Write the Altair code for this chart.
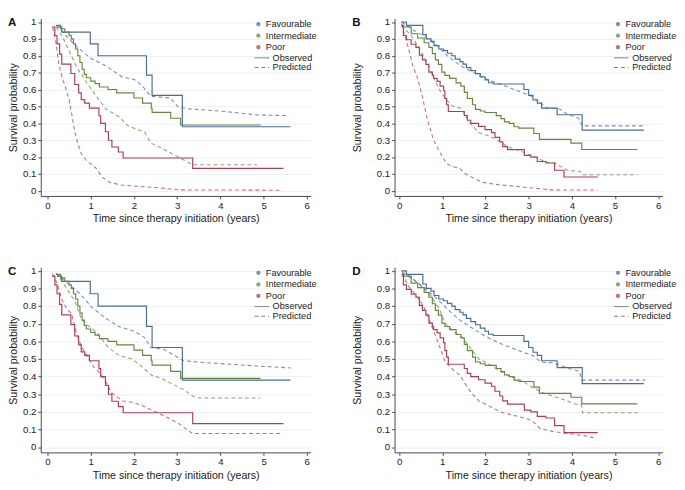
import altair as alt
import pandas as pd

FONT = "Liberation Sans"

GROUPS = ["Favourable", "Intermediate", "Poor"]
KINDS = ["Observed", "Predicted"]
LINE_COLORS = ["#4a6b96", "#66873f", "#ad3c57"]
YEAR_TICKS = [0, 1, 2, 3, 4, 5, 6]
SURV_TICKS = [0, 0.1, 0.2, 0.3, 0.4, 0.5, 0.6, 0.7, 0.8, 0.9, 1]

# ---------------- Observed Kaplan-Meier (panels A and C) ----------------
obs_ac_fav_t = [0.22, 0.33, 0.99, 1.17, 2.29, 2.42, 3.12, 5.62]
obs_ac_fav_s = [0.97, 0.94, 0.87, 0.80, 0.685, 0.565, 0.38, 0.38]
obs_ac_int_t = [0.2, 0.3, 0.4, 0.5, 0.55, 0.6, 0.65, 0.7, 0.75, 0.8, 0.85, 0.9, 1.0, 1.1,
                1.2, 1.4, 1.6, 2.0, 2.2, 2.4, 2.42, 2.85, 3.08, 4.93]
obs_ac_int_s = [0.98, 0.96, 0.94, 0.92, 0.90, 0.87, 0.84, 0.80, 0.76, 0.72, 0.69, 0.67, 0.65, 0.635,
                0.615, 0.60, 0.58, 0.55, 0.52, 0.49, 0.465, 0.43, 0.39, 0.39]
obs_ac_poor_t = [0.1, 0.17, 0.22, 0.28, 0.33, 0.54, 0.63, 0.72, 0.78, 0.86, 0.97, 1.19, 1.23, 1.34,
                 1.41, 1.49, 1.64, 1.75, 3.36, 5.46]
obs_ac_poor_s = [0.97, 0.92, 0.87, 0.81, 0.75, 0.695, 0.63, 0.58, 0.54, 0.52, 0.49, 0.445, 0.40, 0.35,
                 0.30, 0.26, 0.23, 0.195, 0.133, 0.133]

# ---------------- Observed Kaplan-Meier (panels B and D) ----------------
obs_bd_fav_t = [0.05, 0.17, 0.55, 0.63, 0.74, 0.81, 0.92, 1.03, 1.12, 1.22, 1.3, 1.41, 1.48, 1.56,
                1.66, 1.77, 1.88, 1.99, 2.07, 2.18, 2.89, 3.0, 3.1, 3.2, 3.3, 3.66, 4.24, 5.67]
obs_bd_fav_s = [1.0, 0.98, 0.925, 0.9, 0.885, 0.86, 0.84, 0.83, 0.815, 0.8, 0.78, 0.765, 0.75, 0.73,
                0.712, 0.694, 0.675, 0.657, 0.64, 0.633, 0.6, 0.565, 0.538, 0.52, 0.49, 0.451, 0.36, 0.36]
obs_bd_int_t = [0.06, 0.28, 0.43, 0.58, 0.69, 0.77, 0.84, 0.91, 0.99, 1.06, 1.17, 1.32, 1.43, 1.51,
                1.58, 1.7, 1.77, 1.88, 1.99, 2.25, 2.36, 2.44, 2.55, 2.66, 2.77, 3.12, 3.25, 3.98,
                4.23, 5.52]
obs_bd_int_s = [0.97, 0.93, 0.905, 0.877, 0.85, 0.813, 0.776, 0.749, 0.703, 0.684, 0.666, 0.639, 0.62,
                0.583, 0.547, 0.51, 0.483, 0.473, 0.464, 0.446, 0.428, 0.409, 0.40, 0.38, 0.372, 0.34,
                0.305, 0.283, 0.245, 0.245]
obs_bd_poor_t = [0.06, 0.1, 0.17, 0.28, 0.39, 0.47, 0.54, 0.62, 0.69, 0.77, 0.8, 0.88, 0.95, 1.03,
                 1.06, 1.1, 1.14, 1.51, 1.58, 1.66, 1.84, 1.99, 2.14, 2.22, 2.33, 2.4, 2.51, 2.9,
                 3.05, 3.2, 3.4, 3.6, 3.82, 4.6]
obs_bd_poor_s = [0.98, 0.92, 0.895, 0.868, 0.85, 0.804, 0.776, 0.749, 0.703, 0.684, 0.666, 0.648, 0.62,
                 0.593, 0.547, 0.51, 0.47, 0.446, 0.418, 0.40, 0.382, 0.363, 0.345, 0.317, 0.29, 0.262,
                 0.244, 0.21, 0.2, 0.174, 0.165, 0.122, 0.082, 0.082]

# ---------------- Predicted (panel A) ----------------
pred_a_fav_t = [0.2, 0.39, 0.61, 1.0, 1.35, 1.72, 2.02, 2.2, 2.39, 2.6, 2.84, 3.03, 3.29, 4.1, 4.85, 5.59]
pred_a_fav_s = [0.98, 0.93, 0.87, 0.785, 0.74, 0.676, 0.658, 0.62, 0.56, 0.555, 0.55, 0.495, 0.485,
                0.47, 0.45, 0.445]
pred_a_int_t = [0.2, 0.35, 0.5, 0.68, 0.91, 1.13, 1.35, 1.65, 1.87, 2.25, 2.39, 2.69, 3.03, 3.36, 4.85]
pred_a_int_s = [0.97, 0.91, 0.83, 0.73, 0.64, 0.56, 0.485, 0.44, 0.384, 0.347, 0.283, 0.247, 0.20,
                0.155, 0.155]
pred_a_poor_t = [0.12, 0.2, 0.27, 0.35, 0.42, 0.5, 0.57, 0.63, 0.7, 0.78, 0.9, 1.0, 1.12, 1.27, 1.45,
                 1.7, 2.05, 2.6, 3.06, 5.44]
pred_a_poor_s = [0.97, 0.87, 0.74, 0.66, 0.61, 0.54, 0.44, 0.35, 0.28, 0.22, 0.18, 0.16, 0.135, 0.08,
                 0.05, 0.035, 0.028, 0.018, 0.006, 0.004]

# ---------------- Predicted (panel B) ----------------
pred_b_fav_t = [0.06, 0.28, 0.58, 0.88, 1.14, 1.43, 1.7, 1.99, 2.36, 2.74, 3.03, 3.26, 3.4, 3.72, 3.87,
                4.16, 4.24, 5.67]
pred_b_fav_s = [1.0, 0.96, 0.914, 0.86, 0.795, 0.74, 0.703, 0.666, 0.63, 0.593, 0.565, 0.528, 0.49,
                0.485, 0.457, 0.43, 0.385, 0.385]
pred_b_int_t = [0.06, 0.28, 0.5, 0.65, 0.8, 0.95, 1.1, 1.25, 1.43, 1.62, 1.84, 2.07, 2.29, 2.51, 2.81,
                3.1, 3.4, 3.6, 3.9, 4.2, 4.24, 5.52]
pred_b_int_s = [0.98, 0.92, 0.83, 0.758, 0.666, 0.593, 0.538, 0.5, 0.49, 0.41, 0.345, 0.327, 0.3, 0.262,
                0.235, 0.207, 0.17, 0.165, 0.122, 0.115, 0.096, 0.096]
pred_b_poor_t = [0.06, 0.13, 0.21, 0.32, 0.43, 0.54, 0.65, 0.8, 0.95, 1.1, 1.25, 1.4, 1.51, 1.7, 1.92,
                 2.29, 2.81, 3.18, 3.55, 4.6]
pred_b_poor_s = [0.99, 0.92, 0.85, 0.74, 0.666, 0.556, 0.428, 0.3, 0.226, 0.161, 0.143, 0.134, 0.106,
                 0.079, 0.051, 0.037, 0.024, 0.015, 0.006, 0.005]

# ---------------- Predicted (panel C) ----------------
pred_c_fav_t = [0.2, 0.46, 0.76, 1.02, 1.35, 1.65, 2.02, 2.25, 2.39, 2.69, 2.95, 3.14, 3.51, 4.1, 4.85, 5.63]
pred_c_fav_s = [0.985, 0.93, 0.868, 0.794, 0.73, 0.684, 0.656, 0.62, 0.564, 0.555, 0.518, 0.49, 0.482,
                0.472, 0.46, 0.449]
pred_c_int_t = [0.2, 0.41, 0.63, 0.78, 0.93, 1.15, 1.41, 1.67, 1.96, 2.19, 2.41, 2.63, 2.93, 3.15, 3.36,
                3.51, 4.92]
pred_c_int_s = [0.985, 0.912, 0.83, 0.729, 0.692, 0.646, 0.564, 0.518, 0.5, 0.454, 0.408, 0.39, 0.353,
                0.326, 0.289, 0.279, 0.279]
pred_c_poor_t = [0.11, 0.22, 0.33, 0.44, 0.56, 0.67, 0.78, 0.93, 1.07, 1.22, 1.37, 1.48, 1.59, 1.74, 1.96,
                 2.2, 2.5, 2.8, 3.06, 3.25, 3.36, 5.45]
pred_c_poor_s = [0.985, 0.93, 0.84, 0.784, 0.756, 0.646, 0.573, 0.509, 0.454, 0.418, 0.363, 0.308, 0.289,
                 0.262, 0.255, 0.235, 0.2, 0.165, 0.13, 0.095, 0.077, 0.077]

# ---------------- Predicted (panel D) ----------------
pred_d_fav_t = [0.07, 0.3, 0.59, 0.89, 1.11, 1.41, 1.7, 2.0, 2.3, 2.59, 2.89, 3.11, 3.28, 3.55, 3.73,
                3.95, 4.17, 4.24, 5.7]
pred_d_fav_s = [0.995, 0.958, 0.903, 0.839, 0.784, 0.72, 0.674, 0.628, 0.592, 0.564, 0.537, 0.518,
                0.482, 0.478, 0.463, 0.445, 0.43, 0.38, 0.38]
pred_d_int_t = [0.07, 0.3, 0.52, 0.74, 0.93, 1.07, 1.26, 1.48, 1.67, 1.85, 2.07, 2.3, 2.52, 2.81, 3.11,
                3.33, 3.58, 3.8, 4.1, 4.22, 4.25, 5.52]
pred_d_int_s = [0.985, 0.958, 0.912, 0.857, 0.784, 0.701, 0.656, 0.619, 0.555, 0.5, 0.473, 0.436, 0.408,
                0.381, 0.335, 0.308, 0.288, 0.27, 0.243, 0.24, 0.195, 0.195]
pred_d_poor_t = [0.07, 0.22, 0.41, 0.56, 0.7, 0.85, 0.96, 1.07, 1.26, 1.41, 1.52, 1.67, 1.85, 2.07, 2.37,
                 2.67, 2.96, 3.11, 3.26, 3.56, 3.85, 4.02, 4.32, 4.58]
pred_d_poor_s = [0.985, 0.912, 0.857, 0.802, 0.72, 0.628, 0.555, 0.482, 0.436, 0.408, 0.363, 0.308,
                 0.262, 0.234, 0.198, 0.179, 0.161, 0.143, 0.106, 0.088, 0.079, 0.074, 0.063, 0.05]


def series(panel, group, kind, t, s):
    return pd.DataFrame({"panel": panel, "group": group, "kind": kind, "t": t, "s": s})


obs_ac = [(obs_ac_fav_t, obs_ac_fav_s), (obs_ac_int_t, obs_ac_int_s), (obs_ac_poor_t, obs_ac_poor_s)]
obs_bd = [(obs_bd_fav_t, obs_bd_fav_s), (obs_bd_int_t, obs_bd_int_s), (obs_bd_poor_t, obs_bd_poor_s)]
preds = {
    "A": [(pred_a_fav_t, pred_a_fav_s), (pred_a_int_t, pred_a_int_s), (pred_a_poor_t, pred_a_poor_s)],
    "B": [(pred_b_fav_t, pred_b_fav_s), (pred_b_int_t, pred_b_int_s), (pred_b_poor_t, pred_b_poor_s)],
    "C": [(pred_c_fav_t, pred_c_fav_s), (pred_c_int_t, pred_c_int_s), (pred_c_poor_t, pred_c_poor_s)],
    "D": [(pred_d_fav_t, pred_d_fav_s), (pred_d_int_t, pred_d_int_s), (pred_d_poor_t, pred_d_poor_s)],
}
observed = {"A": obs_ac, "B": obs_bd, "C": obs_ac, "D": obs_bd}

frames = []
for p in ["A", "B", "C", "D"]:
    for g, (t, s) in zip(GROUPS, observed[p]):
        frames.append(series(p, g, "Observed", t, s))
    for g, (t, s) in zip(GROUPS, preds[p]):
        frames.append(series(p, g, "Predicted", t, s))
df = pd.concat(frames, ignore_index=True)


def make_panel(letter, xdom, width, height, title_pad, letter_dx, leg_dx):
    d = df[df.panel == letter]
    x = alt.X("t:Q", scale=alt.Scale(domain=xdom, nice=False, zero=False),
              axis=alt.Axis(values=YEAR_TICKS, title="Time since therapy initiation (years)",
                            grid=False, format="d", titlePadding=3))
    y = alt.Y("s:Q", scale=alt.Scale(domain=[-0.03, 1.02], nice=False, zero=False),
              axis=alt.Axis(values=SURV_TICKS, format="~g", title="Survival probability",
                            titlePadding=title_pad, grid=True))
    color = alt.Color("group:N", scale=alt.Scale(domain=GROUPS, range=LINE_COLORS),
                      legend=alt.Legend(orient="none", legendX=221 + leg_dx, legendY=1, title=None,
                                        symbolType="circle", symbolSize=6, symbolStrokeWidth=2,
                                        labelOffset=3, rowPadding=1, padding=0,
                                        labelFontSize=9.5))
    dash = alt.StrokeDash("kind:N", scale=alt.Scale(domain=KINDS, range=[[1, 0], [4, 3]]),
                          legend=alt.Legend(orient="none", legendX=224.5 + leg_dx, legendY=36,
                                            title=None, symbolType="M-3,0H3", symbolSize=25,
                                            symbolStrokeColor="#3b4a5e", symbolStrokeWidth=1,
                                            labelOffset=6.5, rowPadding=-3.5, padding=0,
                                            labelFontSize=9.5))
    base = alt.Chart(d).encode(x=x, y=y, color=color, strokeDash=dash)
    obs = base.transform_filter(alt.datum.kind == "Observed").mark_line(
        interpolate="step-after", strokeWidth=1.2)
    pred = base.transform_filter(alt.datum.kind == "Predicted").mark_line(
        strokeWidth=1.1, opacity=0.75)
    lab = alt.Chart(pd.DataFrame({"letter": [letter]})).mark_text(
        align="left", baseline="middle", fontWeight="bold", fontSize=12, font=FONT, color="#111"
    ).encode(x=alt.value(letter_dx), y=alt.value(4), text="letter:N")
    return alt.layer(obs, pred, lab).properties(width=width, height=height)


pA = make_panel("A", [-0.156, 6.09], 280, 184, 4, -34, 0)
pB = make_panel("B", [-0.105, 6.1], 278, 184, 14, -44, 6)
pC = make_panel("C", [-0.156, 6.09], 280, 192, 4, -34, 0)
pD = make_panel("D", [-0.105, 6.1], 278, 192, 14, -44, 6)


def indep(c):
    return c.resolve_scale(color="independent", strokeDash="independent").resolve_legend(
        color="independent", strokeDash="independent")


row1 = indep(alt.hconcat(pA, pB, spacing=36))
row2 = indep(alt.hconcat(pC, pD, spacing=36))
chart = indep(alt.vconcat(row1, row2, spacing=43)).properties(
    padding=0, background="white"
).configure_view(stroke=None).configure_axis(
    labelFont=FONT, titleFont=FONT, labelFontSize=10, titleFontSize=11,
    titleFontWeight="normal", labelColor="#222", titleColor="#222",
    domainColor="#444", tickColor="#444", tickSize=3, labelPadding=2,
    gridColor="#e9eef3", gridWidth=1
).configure_legend(labelFont=FONT, labelColor="#222")

chart.save("out.html", embed_options={"renderer": "svg", "actions": False})
